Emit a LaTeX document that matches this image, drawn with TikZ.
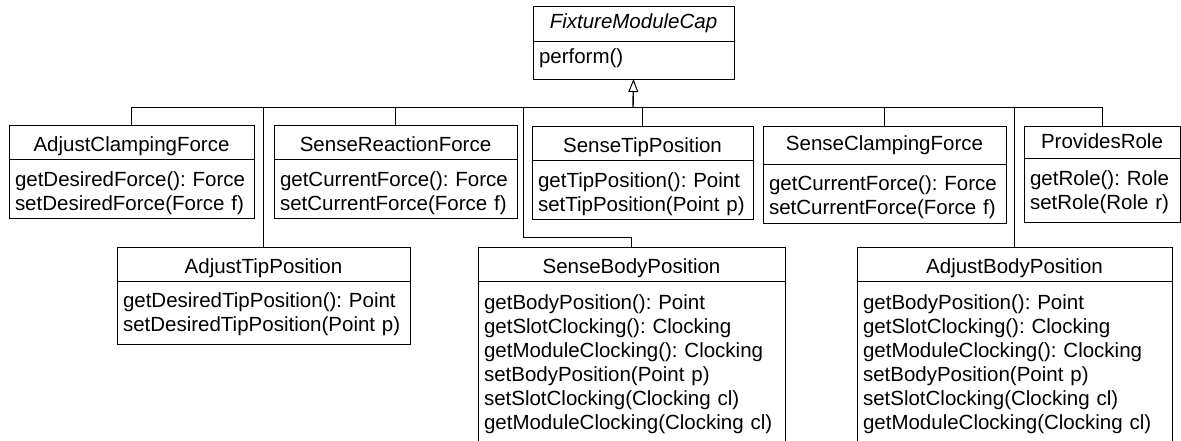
\documentclass[tikz,border=0pt]{standalone}
\usepackage{fontspec}
\setmainfont{Liberation Sans}
\usetikzlibrary{arrows.meta}

\newcommand{\clsfont}{\fontsize{20.5pt}{24pt}\selectfont\frenchspacing}

\tikzset{
  clsname/.style={draw, line width=1pt, outer sep=0pt, inner sep=0pt, anchor=north west,
    align=center, font=\clsfont, text height=26pt, text depth=8pt},
  clsops/.style={draw, line width=1pt, outer sep=0pt, inner xsep=6pt, inner ysep=0pt, anchor=north west,
    align=left, font=\clsfont, text height=27pt, text depth=32pt},
  link/.style={line width=1pt},
  inherit/.style={line width=1.4pt, -{Triangle[open, width=10pt, length=13pt, line width=1pt]}},
}

\begin{document}
\begin{tikzpicture}[x=1pt, y=-1pt]
    \useasboundingbox (0,0) rectangle (1181,440);

    % abstract capability (top)
    \node[clsname, minimum width=201pt, text height=22pt, text depth=13pt, font=\clsfont\itshape] (fmc) at (533,6) {FixtureModuleCap};
    \node[clsops, text width=189pt, text height=22pt, text depth=16pt] (fmcb) at (fmc.south west) {perform()};

    % first row
    \node[clsname, minimum width=245pt] (acf) at (9,125) {AdjustClampingForce};
    \node[clsops, text width=233pt] (acfb) at (acf.south west) {getDesiredForce(): Force\\setDesiredForce(Force f)};

    \node[clsname, minimum width=243pt] (srf) at (274,125) {SenseReactionForce};
    \node[clsops, text width=231pt] (srfb) at (srf.south west) {getCurrentForce(): Force\\setCurrentForce(Force f)};

    \node[clsname, minimum width=221pt] (stp) at (532,126) {SenseTipPosition};
    \node[clsops, text width=209pt] (stpb) at (stp.south west) {getTipPosition(): Point\\setTipPosition(Point p)};

    \node[clsname, minimum width=243pt, text height=24pt, text depth=14.5pt] (scf) at (763,126) {SenseClampingForce};
    \node[clsops, text width=231pt, text height=26pt, text depth=32.5pt] (scfb) at (scf.south west) {getCurrentForce(): Force\\setCurrentForce(Force f)};

    \node[clsname, minimum width=156pt, text height=22.5pt, text depth=10pt] (pr) at (1024,126) {ProvidesRole};
    \node[clsops, text width=144pt, text depth=36.5pt] (prb) at (pr.south west) {getRole(): Role\\setRole(Role r)};

    % second row
    \node[clsname, minimum width=293pt] (atp) at (117,247) {AdjustTipPosition};
    \node[clsops, text width=281pt, text height=26.5pt, text depth=36.5pt] (atpb) at (atp.south west) {getDesiredTipPosition(): Point\\setDesiredTipPosition(Point p)};

    \node[clsname, minimum width=307pt] (sbp) at (478,247) {SenseBodyPosition};
    \node[clsops, text width=295pt, text height=28pt, text depth=140pt] (sbpb) at (sbp.south west) {getBodyPosition(): Point\\getSlotClocking(): Clocking\\getModuleClocking(): Clocking\\setBodyPosition(Point p)\\setSlotClocking(Clocking cl)\\getModuleClocking(Clocking cl)};

    \node[clsname, minimum width=315pt] (abp) at (857,247) {AdjustBodyPosition};
    \node[clsops, text width=303pt, text height=28pt, text depth=140pt] (abpb) at (abp.south west) {getBodyPosition(): Point\\getSlotClocking(): Clocking\\getModuleClocking(): Clocking\\setBodyPosition(Point p)\\setSlotClocking(Clocking cl)\\getModuleClocking(Clocking cl)};

    % generalization tree
    \coordinate (bus) at (633,107);
    \coordinate (sbpbend) at (523,237.5);
    \draw[link] (acf.north) |- (bus);
    \draw[link] (srf.north) |- (bus);
    \draw[link] (stp.north) |- (bus);
    \draw[link] (scf.north) |- (bus);
    \draw[link] (pr.north) |- (bus);
    \draw[link] (atp.north) |- (bus);
    \draw[link] (abp.north) |- (bus);
    \draw[link] (sbp.north) |- (sbpbend) |- (bus);
    \draw[inherit] (bus) -- (fmcb.south);
\end{tikzpicture}
\end{document}
